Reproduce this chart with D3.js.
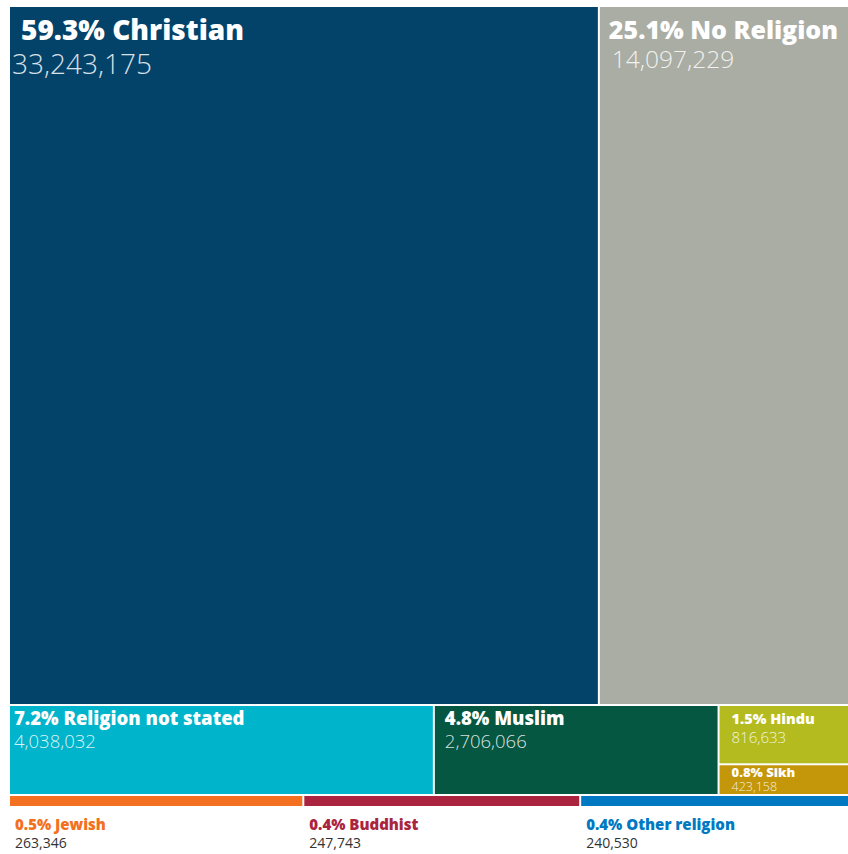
<!DOCTYPE html>
<html>
<head>
<meta charset="utf-8">
<script src="https://cdn.jsdelivr.net/npm/d3@7"></script>
<style>
  html, body { margin: 0; padding: 0; background: #fff; }
  svg { display: block; font-family: 'Open Sans', 'Noto Sans', sans-serif; }
</style>
</head>
<body>
<div id="chart"></div>
<script>
// Religion in England & Wales, 2011 census
const religions = ['Christian', 'No Religion', 'Religion not stated', 'Muslim', 'Hindu', 'Sikh', 'Jewish', 'Buddhist', 'Other religion'];
const counts = [33243175, 14097229, 4038032, 2706066, 816633, 423158, 263346, 247743, 240530];
const rowOf = [0, 0, 1, 1, 1, 1, 2, 2, 2];
const groupOf = [null, null, null, null, 'HinduSikh', 'HinduSikh', null, null, null];
const colors = ['#03436a', '#aaada4', '#00b4cb', '#055741', '#b4bb1f', '#c4960a', '#f37021', '#ab243f', '#0079c2'];

const width = 848, height = 854;
const margin = { top: 7, left: 10 };
// fixed band heights for the three rows (layout only)
const rowHeights = [699, 90, 12];

const total = d3.sum(counts);
const pct = d3.format('.1%');
const num = d3.format(',');

// build hierarchy: root -> rows -> (leaf | group -> leaves)
const rows = [0, 1, 2].map(r => {
    const kids = [];
    religions.forEach((name, i) => {
        if (rowOf[i] !== r) return;
        const leaf = { name, value: counts[i], i };
        if (groupOf[i]) {
            let g = kids.find(k => k.name === groupOf[i]);
            if (!g) { g = { name: groupOf[i], children: [] }; kids.push(g); }
            g.children.push(leaf);
        } else kids.push(leaf);
    });
    return { name: 'row' + r, children: kids };
});

const root = d3.hierarchy({ name: 'root', children: rows })
    .sum(d => d.value || 0);

function tile(node, x0, y0, x1, y1) {
    if (node.depth === 0) {
        let y = y0;
        node.children.forEach((c, k) => {
            c.x0 = x0; c.x1 = x1;
            c.y0 = y; y += rowHeights[k]; c.y1 = y;
        });
    } else if (node.depth === 1) {
        d3.treemapDice(node, x0, y0, x1, y1);
    } else {
        d3.treemapSlice(node, x0, y0, x1, y1);
    }
}

d3.treemap()
    .size([width - margin.left, 800])
    .paddingInner(2)
    .tile(tile)(root);

const svg = d3.select('#chart').append('svg')
    .attr('width', width)
    .attr('height', height);

const g = svg.append('g')
    .attr('transform', `translate(${margin.left},${margin.top})`);

const leaves = root.leaves();

g.selectAll('rect')
    .data(leaves)
    .enter().append('rect')
    .attr('x', d => d.x0)
    .attr('y', d => d.y0)
    .attr('width', d => d.x1 - d.x0)
    .attr('height', d => d.y1 - d.y0)
    .attr('fill', d => colors[d.data.i]);

// label styles per cell (title size, number size, offsets from cell top)
const labelStyle = {
    'Christian':           { ts: 28, ns: 28, tx: 11, nx: 2, ty: 33, ny: 67 },
    'No Religion':         { ts: 25, ns: 24.5, tx: 9, nx: 12, ty: 32, ny: 61 },
    'Religion not stated': { ts: 18.5, ns: 18.5, tx: 4, nx: 4, ty: 19, ny: 42 },
    'Muslim':              { ts: 18.5, ns: 18.5, tx: 10, nx: 10, ty: 19, ny: 42 },
    'Hindu':               { ts: 14.5, ns: 15, tx: 12, nx: 12, ty: 18, ny: 37 },
    'Sikh':                { ts: 13, ns: 12.5, tx: 12, nx: 12, ty: 12, ny: 26 }
};

const inCell = leaves.filter(d => labelStyle[d.data.name]);
const lab = g.selectAll('g.lab')
    .data(inCell)
    .enter().append('g')
    .attr('class', 'lab');

lab.append('text')
    .attr('x', d => d.x0 + labelStyle[d.data.name].tx)
    .attr('y', d => d.y0 + labelStyle[d.data.name].ty)
    .attr('fill', '#fff')
    .style('font-size', d => labelStyle[d.data.name].ts + 'px')
    .style('font-weight', 800)
    .text(d => pct(d.value / total) + ' ' + d.data.name);

lab.append('text')
    .attr('x', d => d.x0 + labelStyle[d.data.name].nx)
    .attr('y', d => d.y0 + labelStyle[d.data.name].ny)
    .attr('fill', '#fff')
    .attr('fill-opacity', 0.85)
    .style('font-size', d => labelStyle[d.data.name].ns + 'px')
    .style('font-weight', 300)
    .text(d => num(d.value));

// bottom row: labels under the thin bars
const under = leaves.filter(d => !labelStyle[d.data.name]);
const ul = g.selectAll('g.under')
    .data(under)
    .enter().append('g')
    .attr('class', 'under');

ul.append('text')
    .attr('x', d => d.x0 + 5)
    .attr('y', d => d.y1 + 24)
    .attr('fill', d => colors[d.data.i])
    .style('font-size', '15px')
    .style('font-weight', 800)
    .text(d => pct(d.value / total) + ' ' + d.data.name);

ul.append('text')
    .attr('x', d => d.x0 + 5)
    .attr('y', d => d.y1 + 42)
    .attr('fill', '#333')
    .style('font-size', '14px')
    .text(d => num(d.value));
</script>
</body>
</html>
